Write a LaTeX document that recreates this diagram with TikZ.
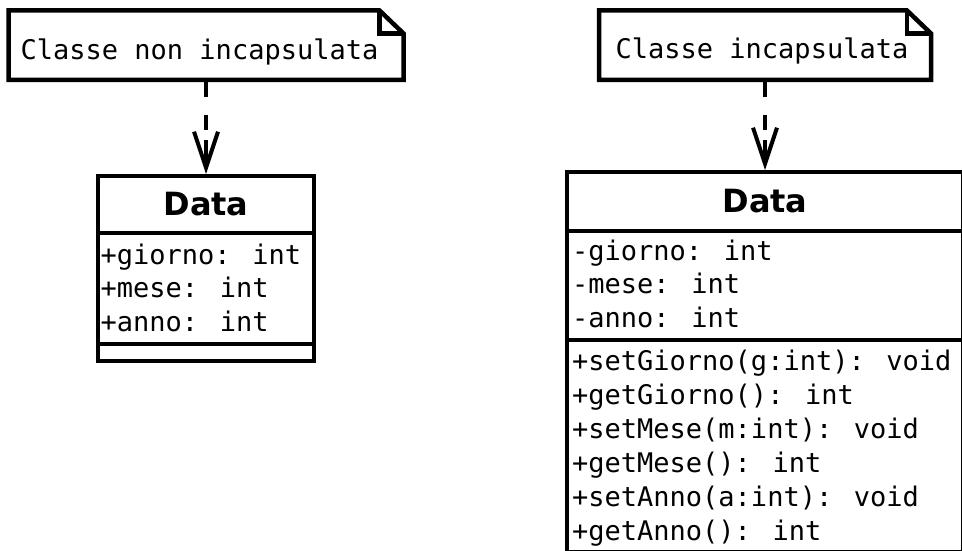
\documentclass[tikz,border=0pt]{standalone}
\usepackage{fontspec}
\usepackage{tikz}
\usetikzlibrary{arrows.meta,positioning}
\newfontfamily\umlmono{DejaVu Sans Mono}
\newfontfamily\umlsans{DejaVu Sans}

\begin{document}
\begin{tikzpicture}[x=1pt, y=-1pt,
  uml/.style={line width=4.5pt},
  notebox/.style={minimum height=69.5, inner sep=0pt, outer sep=0pt},
  cpart/.style={draw, line width=4.5pt, inner sep=0pt, outer sep=0pt},
  mono/.style={inner sep=0pt, anchor=base west, font=\umlmono\fontsize{27}{32}\selectfont},
  cname/.style={font=\umlsans\bfseries\fontsize{32}{38}\selectfont},
  dep/.style={line width=4pt, dash pattern=on 17pt off 18pt on 15pt off 10pt on 60pt,
    shorten >=2pt, -{Straight Barb[length=36pt, width=24pt]}}]
  \useasboundingbox (0,0) rectangle (962,551);
  \clip (0,0) rectangle (962,551);

  % notes with folded corner
  \node[notebox, minimum width=395] (n1) at (206,45.25) {};
  \node[notebox, minimum width=332] (n2) at (765,45.25) {};
  \foreach \n in {n1,n2} {
    \draw[uml] (\n.north west) -- ([xshift=-24pt]\n.north east)
      -- ([yshift=-23pt]\n.north east) -- (\n.south east) -- (\n.south west) -- cycle;
    \draw[uml] ([xshift=-24pt]\n.north east) |- ([yshift=-23pt]\n.north east);
  }
  \node[mono] (t1) at (20.5,60) {Classe non incapsulata};
  \node[mono] (t2) at (615.5,58.5) {Classe incapsulata};

  % class without encapsulation
  \node[cpart, cname, minimum width=216, minimum height=57, anchor=north west] (h1) at (98,176) {Data};
  \node[cpart, minimum width=216, minimum height=111, below=0pt of h1] (a1) {};
  \node[cpart, minimum width=216, minimum height=17, below=0pt of a1] (o1) {};
  \foreach \txt [count=\i] in {+giorno: int, +mese: int, +anno: int}
    \node[mono] (f1\i) at (100.5,{230.5+33.5*\i}) {\txt};

  % encapsulated class
  \node[cpart, cname, minimum width=396, minimum height=59, anchor=north west] (h2) at (567,172) {Data};
  \node[cpart, minimum width=396, minimum height=109, below=0pt of h2] (a2) {};
  \node[cpart, minimum width=396, minimum height=212, below=0pt of a2] (o2) {};
  \foreach \txt [count=\i] in {-giorno: int, -mese: int, -anno: int}
    \node[mono] (f2\i) at (572,{226.5+33.5*\i}) {\txt};
  \foreach \txt [count=\i] in {+setGiorno(g:int): void, +getGiorno(): int,
      +setMese(m:int): void, +getMese(): int, +setAnno(a:int): void, +getAnno(): int}
    \node[mono] (m2\i) at (572,{336+34*\i}) {\txt};

  % dependencies
  \draw[dep] (n1.south) -- (h1.north);
  \draw[dep] (n2.south) -- (h2.north);
\end{tikzpicture}
\end{document}
